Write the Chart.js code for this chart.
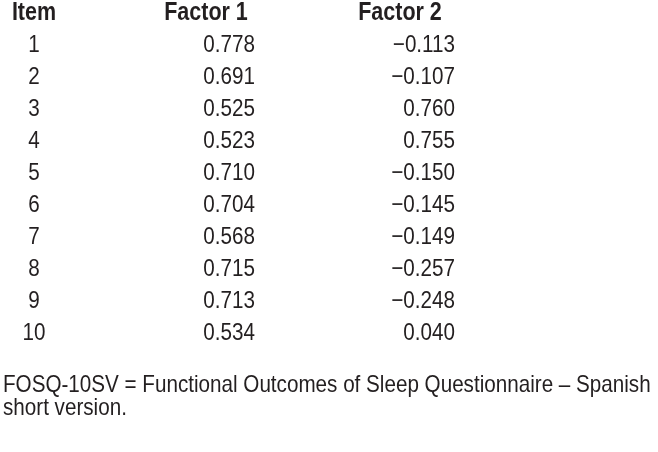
<!DOCTYPE html>
<html>
<head>
<meta charset="utf-8">
<script src="https://cdn.jsdelivr.net/npm/chart.js@4.4.0/dist/chart.umd.min.js"></script>
<style>
  html, body { margin: 0; padding: 0; background: #fff; }
  #wrap { width: 658px; height: 452px; }
</style>
</head>
<body>
<div id="wrap"><canvas id="tbl" width="658" height="452"></canvas></div>
<script>
// table data
var headers = ["Item", "Factor 1", "Factor 2"];
var items = [1, 2, 3, 4, 5, 6, 7, 8, 9, 10];
var factor1 = [0.778, 0.691, 0.525, 0.523, 0.710, 0.704, 0.568, 0.715, 0.713, 0.534];
var factor2 = [-0.113, -0.107, 0.760, 0.755, -0.150, -0.145, -0.149, -0.257, -0.248, 0.040];
var footnote = ["FOSQ-10SV = Functional Outcomes of Sleep Questionnaire \u2013 Spanish", "short version."];

var ink = "#231f20";
var face = "'Liberation Sans', Arial, sans-serif";
var squeeze = 0.86; // narrow face look

// column anchors (x scale runs in page pixels)
var headX = [34, 206, 400];
var colX = [34, 255, 455];

function fmt(v) {
  var s = Math.abs(v).toFixed(3);
  return v < 0 ? "\u2212" + s : s;
}

function rowPoints(x) {
  return items.map(function (it, i) { return { x: x, y: i + 1 }; });
}

function narrowText(ctx, txt, x, y) {
  ctx.save();
  ctx.translate(x, y);
  ctx.scale(squeeze, 1);
  ctx.fillText(txt, 0, 0);
  ctx.restore();
}

var data = {
  datasets: [
    { label: "head", data: headers.map(function (h, i) { return { x: headX[i], y: 0 }; }),
      texts: headers, align: "center", bold: true },
    { label: "item", data: rowPoints(colX[0]), texts: items.map(String), align: "center" },
    { label: "f1", data: rowPoints(colX[1]), texts: factor1.map(fmt), align: "right" },
    { label: "f2", data: rowPoints(colX[2]), texts: factor2.map(fmt), align: "right" }
  ]
};

var cellText = {
  id: "cellText",
  afterDatasetsDraw: function (chart) {
    var ctx = chart.ctx;
    ctx.save();
    ctx.fillStyle = ink;
    ctx.textBaseline = "middle";
    chart.data.datasets.forEach(function (ds, di) {
      var meta = chart.getDatasetMeta(di);
      ctx.font = (ds.bold ? "bold 25px " : "24px ") + face;
      ctx.textAlign = ds.align;
      meta.data.forEach(function (pt, i) {
        narrowText(ctx, ds.texts[i], pt.x, pt.y);
      });
    });
    // footnote under the table
    ctx.font = "24px " + face;
    ctx.textAlign = "left";
    footnote.forEach(function (line, i) {
      narrowText(ctx, line, 3, chart.chartArea.bottom + 11 + i * 23);
    });
    ctx.restore();
  }
};

new Chart(document.getElementById("tbl"), {
  type: "scatter",
  data: data,
  options: {
    responsive: false,
    animation: false,
    layout: { padding: { left: 6, right: 0, top: 0, bottom: 78 } },
    elements: { point: { radius: 0, hoverRadius: 0 } },
    scales: {
      x: { type: "linear", display: false, min: 6, max: 658 },
      y: { type: "linear", display: false, reverse: true, min: -0.40625, max: 11.28125 }
    },
    plugins: {
      legend: { display: false },
      tooltip: { enabled: false },
      title: { display: false }
    }
  },
  plugins: [cellText]
});
</script>
</body>
</html>
